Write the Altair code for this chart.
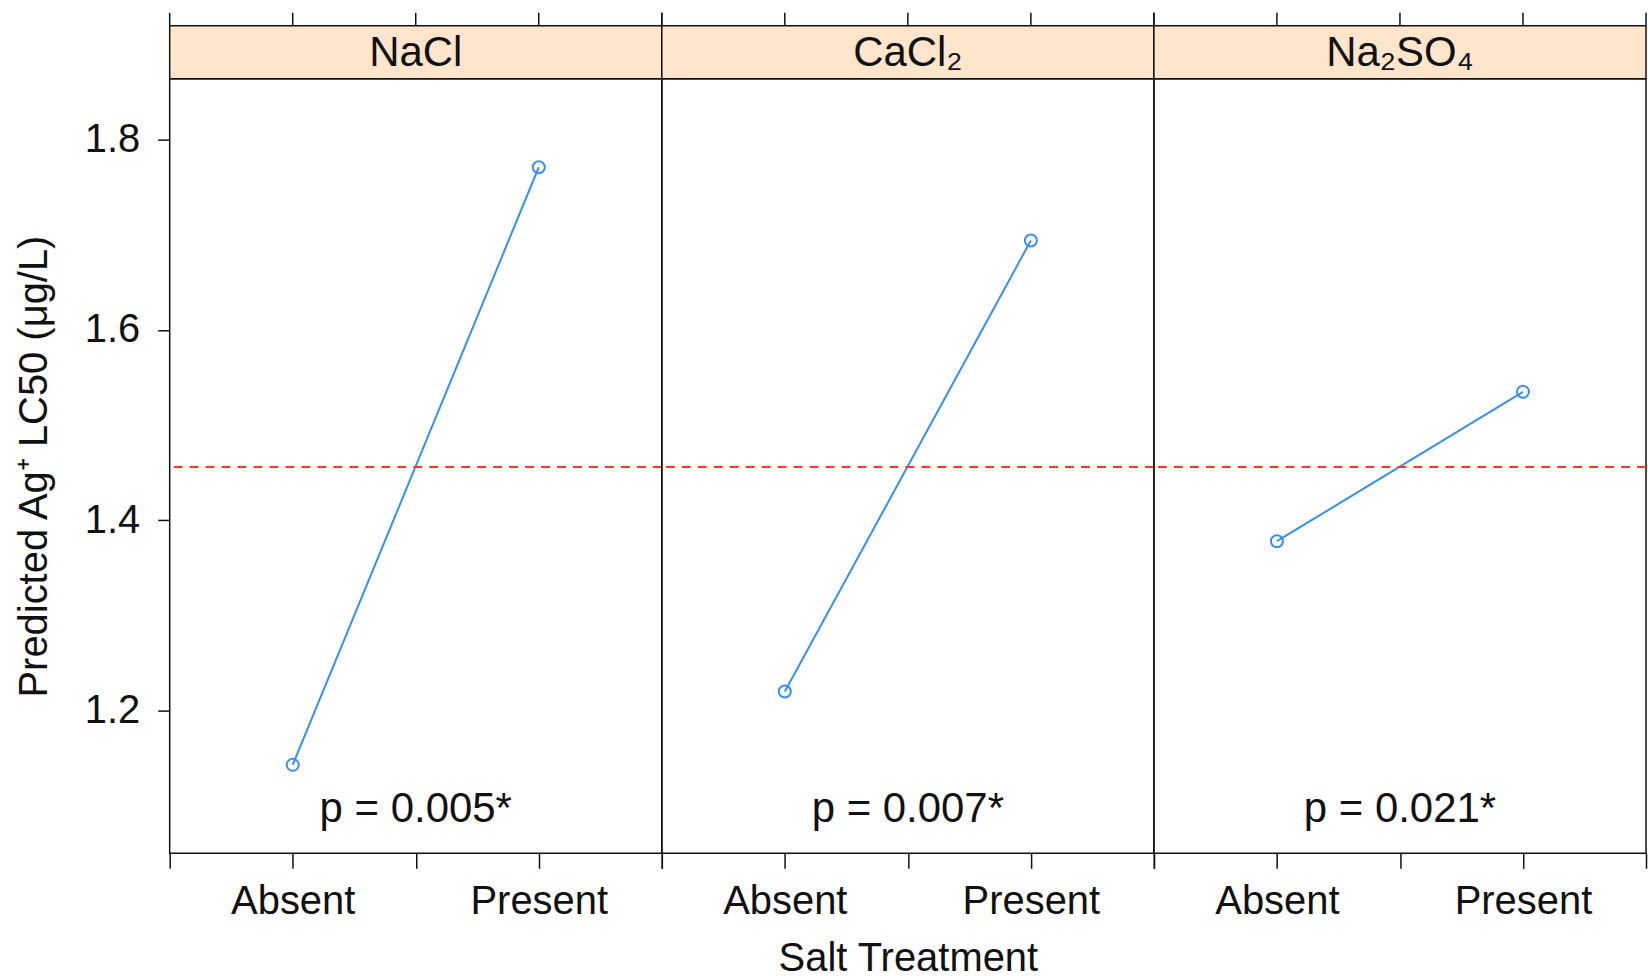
import altair as alt
import pandas as pd

# Panel categories (salt added) and the two treatment levels on the x axis
salts = ["NaCl", "CaCl₂", "Na₂SO₄"]
treatments = ["Absent", "Present"]
treatment_pos = [1, 2]

# Predicted Ag+ LC50 (µg/L) for each salt, without / with the salt
lc50_absent = [1.143, 1.220, 1.378]
lc50_present = [1.771, 1.694, 1.535]

# Significance labels, one per panel
p_labels = ["p = 0.005*", "p = 0.007*", "p = 0.021*"]
p_label_pos = 1.5
p_label_level = 1.097

# Overall mean drawn as a dashed reference line
grand_mean = 1.456

# Axis ticks and ranges
x_ticks = [0.5, 1, 1.5, 2, 2.5]
x_range = [0.5, 2.5]
y_ticks = [1.2, 1.4, 1.6, 1.8]
y_range = [1.05, 1.864]

FONT = "Liberation Sans"
INK = "#111111"
BLUE = "#3a8df7"
RED = "#ff3b1f"
STRIP_FILL = "#ffe5cc"

W, H = 493, 776
STRIP = 53
TICK = 13


def panel(i):
    pts = pd.DataFrame({
        "pos": treatment_pos,
        "treatment": treatments,
        "lc50": [lc50_absent[i], lc50_present[i]],
    })
    strip_df = pd.DataFrame({"salt": [salts[i]]})
    tick_df = pd.DataFrame({"pos": x_ticks})
    mean_df = pd.DataFrame({"lc50": [grand_mean]})
    ptext_df = pd.DataFrame({"pos": [p_label_pos], "lc50": [p_label_level], "label": [p_labels[i]]})

    xs = alt.Scale(domain=x_range, nice=False, zero=False)
    ys = alt.Scale(domain=y_range, nice=False, zero=False)

    x_axis = alt.Axis(
        values=x_ticks,
        labelExpr="datum.value == 1 ? 'Absent' : datum.value == 2 ? 'Present' : ''",
        tickSize=15,
        labelPadding=13,
        titlePadding=17,
    )
    x_enc = alt.X("pos:Q", scale=xs, axis=x_axis,
                  title="Salt Treatment" if i == 1 else None)

    if i == 0:
        y_axis = alt.Axis(values=y_ticks, format=".1f", tickSize=12,
                          labelPadding=18, titlePadding=30)
        y_enc = alt.Y("lc50:Q", scale=ys, axis=y_axis,
                      title="Predicted Ag⁺ LC50 (μg/L)")
    else:
        y_enc = alt.Y("lc50:Q", scale=ys, axis=None)

    strip = alt.Chart(strip_df).mark_rect(
        fill=STRIP_FILL, stroke=INK, strokeWidth=1.5
    ).encode(
        x=alt.value(0), x2=alt.value(W),
        y=alt.value(-STRIP), y2=alt.value(0),
    )
    strip_text = alt.Chart(strip_df).mark_text(
        font=FONT, fontSize=42, color=INK, baseline="middle", align="center"
    ).encode(
        x=alt.value(W / 2), y=alt.value(-STRIP / 2 + 1), text="salt:N"
    )
    top_ticks = alt.Chart(tick_df).mark_rule(color=INK, strokeWidth=1.5).encode(
        x=x_enc, y=alt.value(-STRIP - TICK), y2=alt.value(-STRIP)
    )
    mean_rule = alt.Chart(mean_df).mark_rule(
        color=RED, strokeDash=[9, 7], strokeWidth=1.8
    ).encode(y=y_enc)
    line = alt.Chart(pts).mark_line(color=BLUE, strokeWidth=2).encode(
        x=x_enc, y=y_enc
    )
    points = alt.Chart(pts).mark_point(
        shape="circle", filled=False, color=BLUE, size=145, strokeWidth=2, opacity=1
    ).encode(x=x_enc, y=y_enc)
    ptext = alt.Chart(ptext_df).mark_text(
        font=FONT, fontSize=42, color=INK, baseline="middle", align="center"
    ).encode(x=x_enc, y=y_enc, text="label:N")

    return alt.layer(
        line, strip, strip_text, top_ticks, mean_rule, points, ptext
    ).properties(width=W, height=H)


chart = alt.hconcat(
    *[panel(i) for i in range(3)], spacing=0, bounds="flush"
).properties(
    padding={"left": 13, "top": 10, "right": 0, "bottom": 0}
).configure_view(
    stroke=INK, strokeWidth=1.5
).configure_axis(
    grid=False,
    domain=False,
    tickColor=INK,
    tickWidth=1.5,
    labelFont=FONT,
    labelFontSize=40,
    labelColor=INK,
    titleFont=FONT,
    titleFontSize=40,
    titleFontWeight="normal",
    titleColor=INK,
).configure_concat(spacing=0)

chart.save("out.html", embed_options={"renderer": "svg", "actions": False})
